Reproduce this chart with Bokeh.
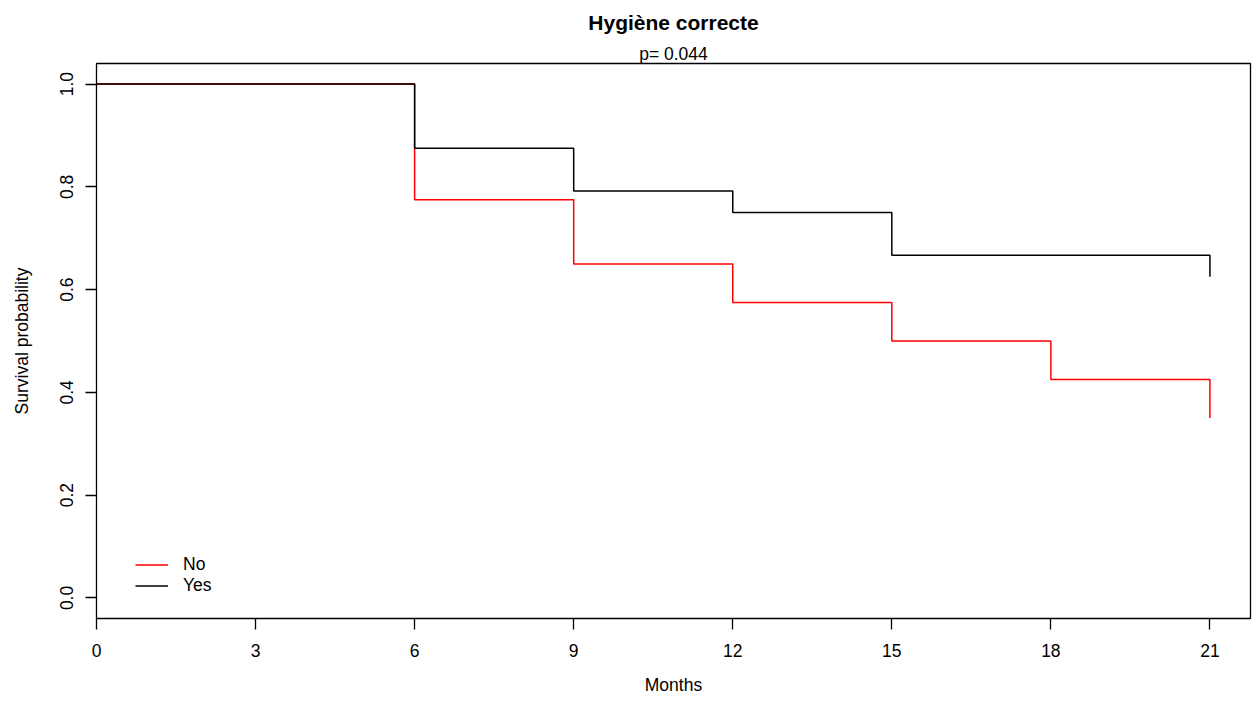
from bokeh.plotting import figure
from bokeh.models import Range1d, FixedTicker, Title, Legend, LegendItem
from bokeh.embed import file_html
from bokeh.resources import INLINE

# Kaplan-Meier estimates
months_no = [0, 6, 9, 12, 15, 18, 21]
surv_no = [1.0, 0.775, 0.65, 0.575, 0.5, 0.425, 0.35]
months_yes = [0, 6, 9, 12, 15, 21]
surv_yes = [1.0, 0.875, 0.7917, 0.75, 0.6667, 0.625]
x_ticks = [0, 3, 6, 9, 12, 15, 18, 21]
y_ticks = [0.0, 0.2, 0.4, 0.6, 0.8, 1.0]
group_labels = ["No", "Yes"]
title_text = "Hygiène correcte"
subtitle_text = "p= 0.044"

FONT = "Liberation Sans"
FS = "17.5px"

p = figure(width=1252, height=698, output_backend="svg", toolbar_location=None,
           x_range=Range1d(0, 21.765), y_range=Range1d(-0.04, 1.04),
           min_border_left=96, min_border_right=2, min_border_bottom=80, min_border_top=63)
p.title = None
p.add_layout(Title(text=subtitle_text, align="center", text_font=FONT, text_font_size=FS,
                   text_font_style="normal", text_color="black", standoff=0, offset=0), "above")
p.add_layout(Title(text=title_text, align="center", text_font=FONT, text_font_size="21px",
                   text_font_style="bold", text_color="black", standoff=15), "above")

p.background_fill_color = "white"
p.border_fill_color = "white"
p.outline_line_color = "black"
p.outline_line_width = 1.3
p.xgrid.visible = False
p.ygrid.visible = False

for ax in (p.xaxis[0], p.yaxis[0]):
    ax.axis_line_color = None
    ax.major_tick_line_color = "black"
    ax.major_tick_line_width = 1.3
    ax.major_tick_out = 11
    ax.major_tick_in = 0
    ax.minor_tick_line_color = None
    ax.major_label_text_font = FONT
    ax.major_label_text_font_size = FS
    ax.major_label_text_color = "black"
    ax.axis_label_text_font = FONT
    ax.axis_label_text_font_size = FS
    ax.axis_label_text_font_style = "normal"
    ax.axis_label_text_color = "black"

p.xaxis.ticker = FixedTicker(ticks=x_ticks)
p.yaxis.ticker = FixedTicker(ticks=y_ticks)
p.yaxis.major_label_overrides = {t: f"{t:.1f}" for t in y_ticks}
p.xaxis.major_label_overrides = {t: str(t) for t in x_ticks}
p.yaxis.major_label_orientation = "vertical"
p.xaxis.major_label_standoff = 14
p.yaxis.major_label_standoff = 12
p.xaxis.axis_label = "Months"
p.yaxis.axis_label = "Survival probability"
p.xaxis.axis_label_standoff = 15
p.yaxis.axis_label_standoff = 26

r_no = p.step(months_no, surv_no, mode="after", line_color="#ff0000", line_width=1.5)
r_yes = p.step(months_yes, surv_yes, mode="after", line_color="black", line_width=1.5)

legend = Legend(items=[LegendItem(label=group_labels[0], renderers=[r_no]),
                       LegendItem(label=group_labels[1], renderers=[r_yes])],
                location=(39, 22), padding=0, margin=0, spacing=0,
                glyph_width=33, glyph_height=21, label_height=21, label_standoff=15,
                label_text_font=FONT, label_text_font_size=FS, label_text_color="black",
                border_line_color=None, background_fill_alpha=0)
p.add_layout(legend, "center")

open("out.html", "w").write(file_html(p, INLINE))
